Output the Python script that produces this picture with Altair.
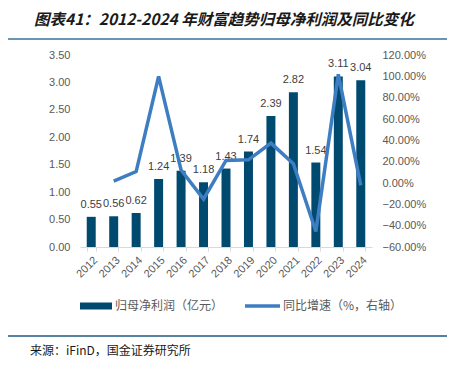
import altair as alt
import pandas as pd

years = ["2012", "2013", "2014", "2015", "2016", "2017", "2018",
         "2019", "2020", "2021", "2022", "2023", "2024"]
profit = [0.55, 0.56, 0.62, 1.24, 1.39, 1.18, 1.43, 1.74, 2.39, 2.82, 1.54, 3.11, 3.04]
growth = [None, 1.8, 10.7, 100.0, 12.1, -15.1, 21.2, 21.7, 37.4, 18.0, -45.4, 101.9, -2.3]
left_ticks = [0.0, 0.5, 1.0, 1.5, 2.0, 2.5, 3.0, 3.5]
right_ticks = [-60, -40, -20, 0, 20, 40, 60, 80, 100, 120]

title_text = "图表41：2012-2024 年财富趋势归母净利润及同比变化"
source_text = "来源：iFinD，国金证券研究所"
legend_bar = "归母净利润（亿元）"
legend_line = "同比增速（%，右轴）"

BAR = "#004a70"
LINE = "#3d7dc2"
LATIN = "Liberation Sans"
CJK = "Noto Sans CJK SC"

df = pd.DataFrame({"year": years, "profit": profit, "growth": growth})

W, H = 292, 192

xenc = alt.X("year:N", sort=years, title=None,
             scale=alt.Scale(paddingInner=0.6, paddingOuter=0.3),
             axis=alt.Axis(labelAngle=-45, labelFont=LATIN, labelFontSize=11,
                           labelColor="#595959", domainColor="#d9d9d9",
                           tickColor="#d9d9d9", tickSize=4, tickBand="extent",
                           labelPadding=3, labelOverlap=False))

left_axis = alt.Axis(values=left_ticks, grid=False, domain=False,
                     ticks=False, labelPadding=10, labelFont=LATIN,
                     labelFontSize=11, labelColor="#595959", orient="left",
                     labelOverlap=False, tickCount=8,
                     labelExpr="format(datum.value, '.2f')")
left_scale = alt.Scale(domain=[0, 3.5], nice=False)

base = alt.Chart(df)

bars = base.mark_bar(color=BAR).encode(
    x=xenc,
    y=alt.Y("profit:Q", title=None, scale=left_scale, axis=left_axis),
)

labels = base.mark_text(dy=-12, font=LATIN, fontSize=11, color="#404040").encode(
    x=alt.X("year:N", sort=years),
    y=alt.Y("profit:Q", title=None, scale=left_scale, axis=left_axis),
    text=alt.Text("profit:Q", format=".2f"),
)

line = base.mark_line(color=LINE, strokeWidth=3.5).encode(
    x=alt.X("year:N", sort=years),
    y=alt.Y("growth:Q", title=None,
            scale=alt.Scale(domain=[-60, 120], nice=False),
            axis=alt.Axis(values=right_ticks, grid=False, domain=False, ticks=False,
                          labelPadding=10, labelFont=LATIN, labelFontSize=11,
                          labelColor="#595959", orient="right", labelOverlap=False,
                          labelExpr="format(datum.value, '.2f') + '%'")),
)

deco = pd.DataFrame({"k": [0]})
dbase = alt.Chart(deco)

title = dbase.mark_text(text=title_text, font=CJK, fontSize=15.5, fontWeight="bold",
                        fontStyle="italic", color="#1a1a1a", align="left",
                        baseline="middle").encode(x=alt.value(-46), y=alt.value(-35))
rule_top = dbase.mark_rule(color="#3a6f98", strokeWidth=1.5).encode(
    x=alt.value(-72), x2=alt.value(367), y=alt.value(-16))
rule_bottom = dbase.mark_rule(color="#1f5a80", strokeWidth=1.5).encode(
    x=alt.value(-72), x2=alt.value(367), y=alt.value(281))
source = dbase.mark_text(text=source_text, font=CJK, fontSize=12, color="#1a1a1a",
                         align="left", baseline="middle").encode(
    x=alt.value(-50), y=alt.value(296))

leg1_sw = dbase.mark_rule(color=BAR, strokeWidth=7).encode(
    x=alt.value(0), x2=alt.value(32), y=alt.value(251))
leg1_tx = dbase.mark_text(text=legend_bar, font=CJK, fontSize=12, color="#595959",
                          align="left", baseline="middle").encode(
    x=alt.value(35), y=alt.value(251))
leg2_sw = dbase.mark_rule(color=LINE, strokeWidth=3.5).encode(
    x=alt.value(165), x2=alt.value(200), y=alt.value(251))
leg2_tx = dbase.mark_text(text=legend_line, font=CJK, fontSize=12, color="#595959",
                          align="left", baseline="middle").encode(
    x=alt.value(203), y=alt.value(251))

main = alt.layer(alt.layer(bars, labels), line).resolve_scale(y="independent")

chart = alt.layer(main, title, rule_top, rule_bottom, source,
                  leg1_sw, leg1_tx, leg2_sw, leg2_tx).properties(
    width=W, height=H,
    autosize=alt.AutoSizeParams(type="none"),
    padding={"left": 72, "top": 47, "right": 75, "bottom": 112},
).configure_view(stroke=None)

chart.save("out.html", embed_options={"renderer": "svg", "actions": False})
